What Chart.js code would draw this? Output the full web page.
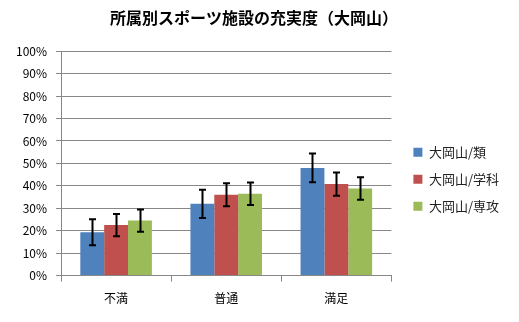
<!DOCTYPE html>
<html>
<head>
<meta charset="utf-8">
<script src="https://cdn.jsdelivr.net/npm/chart.js@4/dist/chart.umd.min.js"></script>
<style>
  html, body { margin: 0; padding: 0; background: #fff; }
  #wrap { width: 519px; height: 322px; }
</style>
</head>
<body>
<div id="wrap"><canvas id="chart"></canvas></div>
<script>
// categories
const categories = ["不満", "普通", "満足"];

// series names
const seriesNames = ["大岡山/類", "大岡山/学科", "大岡山/専攻"];

// bar values (fraction)
const valRui = [0.193, 0.32, 0.48];
const valGakka = [0.225, 0.36, 0.408];
const valSenko = [0.245, 0.365, 0.388];

// error bar half-widths
const errRui = [0.058, 0.063, 0.064];
const errGakka = [0.05, 0.051, 0.052];
const errSenko = [0.05, 0.05, 0.05];

const seriesColors = ["#4F81BD", "#C0504D", "#9BBB59"];

const yTicks = [0, 0.1, 0.2, 0.3, 0.4, 0.5, 0.6, 0.7, 0.8, 0.9, 1];

const font = "'Noto Sans CJK JP', 'Noto Sans', sans-serif";

// draws the error bars on top of the bars
const errorBars = {
  id: "errorBars",
  afterDatasetsDraw(chart) {
    const ctx = chart.ctx;
    const y = chart.scales.y;
    ctx.save();
    ctx.strokeStyle = "#000";
    ctx.lineWidth = 2;
    chart.data.datasets.forEach((ds, i) => {
      const meta = chart.getDatasetMeta(i);
      meta.data.forEach((bar, j) => {
        const v = ds.data[j];
        const e = ds.errors[j];
        const top = y.getPixelForValue(v + e);
        const bot = y.getPixelForValue(v - e);
        const x = Math.round(bar.x) + 0.5;
        ctx.beginPath();
        ctx.moveTo(x, top);
        ctx.lineTo(x, bot);
        ctx.moveTo(x - 3.5, top);
        ctx.lineTo(x + 3.5, top);
        ctx.moveTo(x - 3.5, bot);
        ctx.lineTo(x + 3.5, bot);
        ctx.stroke();
      });
    });
    ctx.restore();
  }
};

// push the legend a bit to the right, leaving a wider gap after the plot
const legendShift = {
  id: "legendShift",
  afterLayout(chart) {
    chart.legend.left += 8;
    chart.legend.right += 8;
  }
};

const chart = new Chart(document.getElementById("chart"), {
  type: "bar",
  plugins: [errorBars, legendShift],
  data: {
    labels: categories,
    datasets: [
      { label: seriesNames[0], data: valRui, errors: errRui, backgroundColor: seriesColors[0] },
      { label: seriesNames[1], data: valGakka, errors: errGakka, backgroundColor: seriesColors[1] },
      { label: seriesNames[2], data: valSenko, errors: errSenko, backgroundColor: seriesColors[2] },
    ],
  },
  options: {
    responsive: true,
    maintainAspectRatio: false,
    animation: false,
    datasets: {
      bar: { categoryPercentage: 0.65, barPercentage: 1.0 },
    },
    layout: { padding: { left: 7, right: 18, top: 8, bottom: 6 } },
    plugins: {
      tooltip: { enabled: false },
      title: {
        display: true,
        text: "所属別スポーツ施設の充実度（大岡山）",
        color: "#000",
        font: { family: font, size: 16, weight: "bold" },
        padding: { top: 0, bottom: 24 },
      },
      legend: {
        position: "right",
        title: { display: true, text: " ", padding: 10 },
        labels: {
          color: "#222",
          boxWidth: 9,
          boxHeight: 9,
          padding: 14,
          font: { family: font, size: 13 },
        },
      },
    },
    scales: {
      x: {
        grid: { drawOnChartArea: false, offset: true, tickLength: 6, color: "#888" },
        border: { color: "#888", width: 1 },
        ticks: { color: "#000", padding: 10, font: { family: font, size: 12 } },
      },
      y: {
        min: 0,
        max: 1,
        afterBuildTicks: (axis) => { axis.ticks = yTicks.map((v) => ({ value: v })); },
        grid: { color: "#888", tickLength: 5, lineWidth: 1 },
        border: { color: "#888", width: 1 },
        ticks: {
          color: "#000",
          padding: 9,
          font: { family: font, size: 12 },
          callback: (v) => Math.round(v * 100) + "%",
        },
      },
    },
  },
});
</script>
</body>
</html>
